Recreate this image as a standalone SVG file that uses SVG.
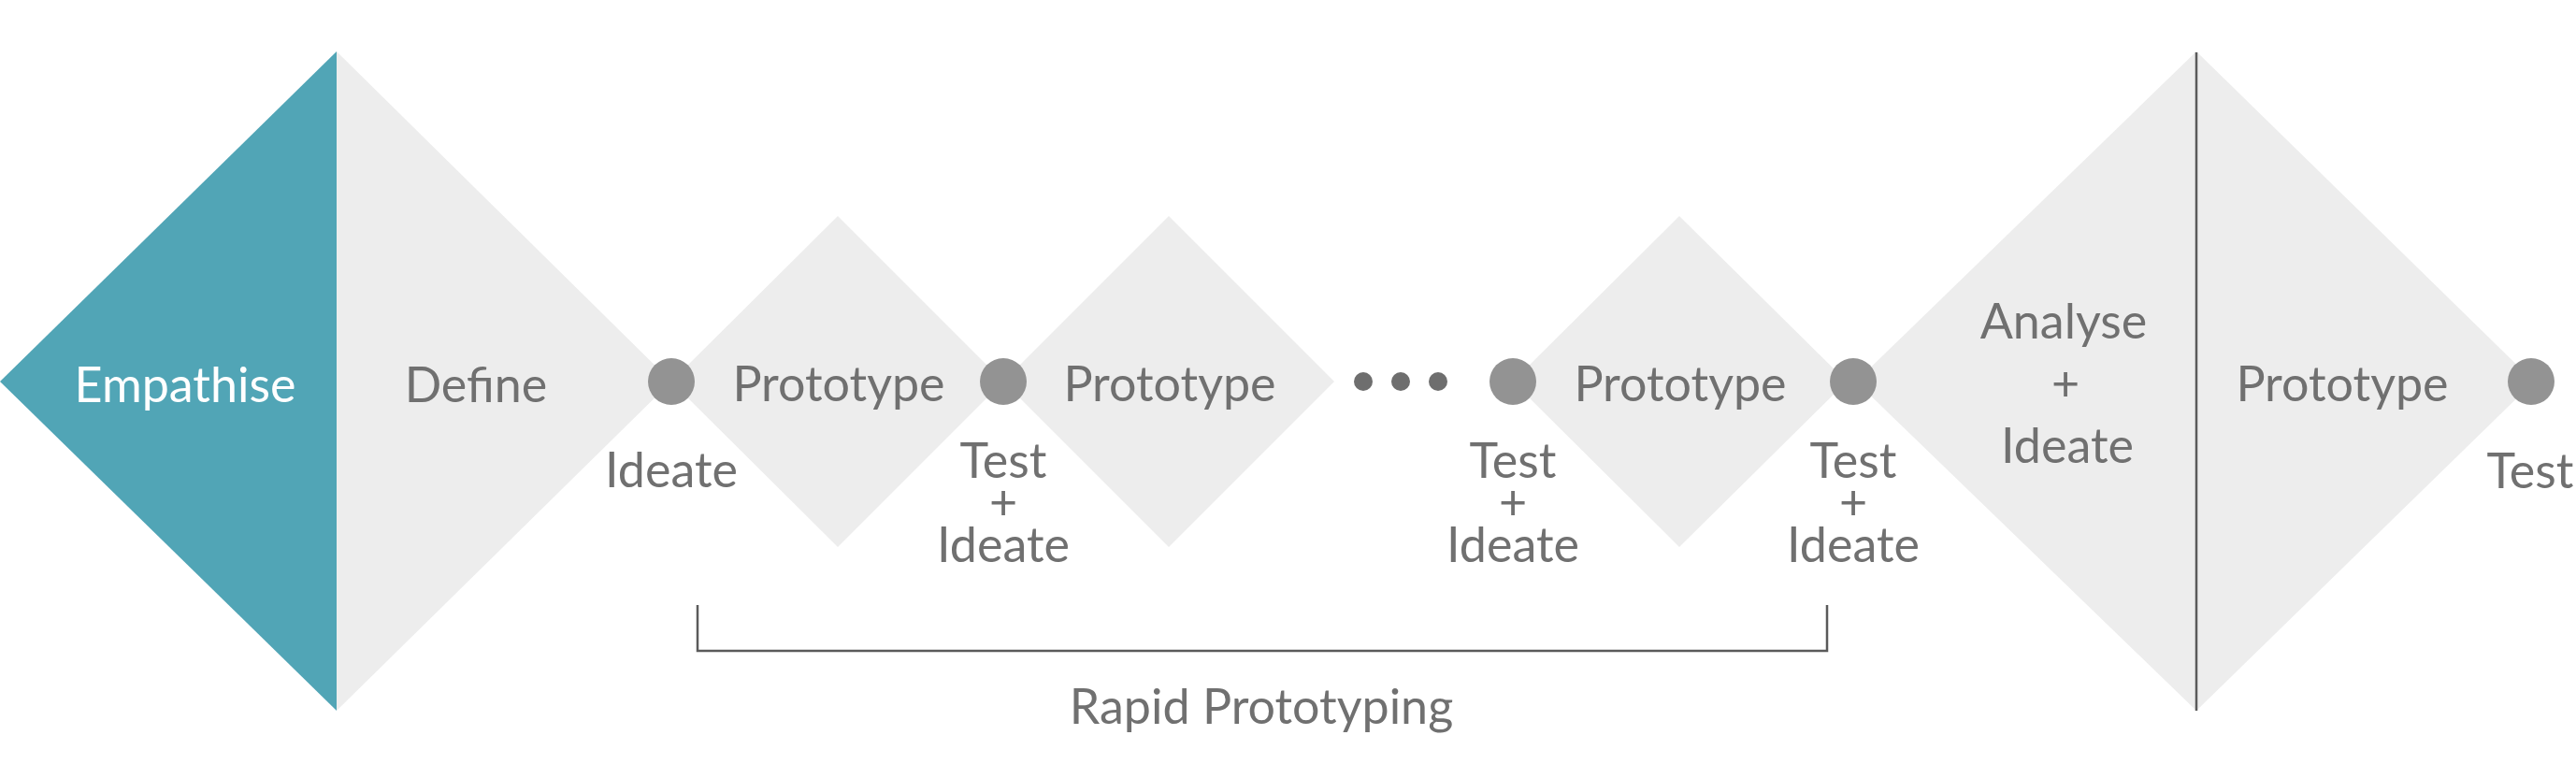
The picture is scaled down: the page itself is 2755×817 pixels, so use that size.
<svg xmlns="http://www.w3.org/2000/svg" width="2755" height="817" viewBox="0 0 2755 817">
<style>
.bg{fill:#ededed}
.teal{fill:#51a5b6}
.dot{fill:#939393}
.edot{fill:#6e6e6e}
.t{font-family:"Lato","Liberation Sans",sans-serif;font-size:52px;fill:#707070;text-anchor:middle}
.w{fill:#ffffff}
.ln{stroke:#5a5a5a;stroke-width:2.5;fill:none}
</style>
<rect width="2755" height="817" fill="#ffffff"/>
<g id="empathise">
<polygon class="teal" points="0,408 360,55 360,760"/>
<text class="t w" x="198" y="430">Empathise</text>
</g>
<g id="define">
<polygon class="bg" points="360,55 718,408 360,760"/>
<text class="t" x="509" y="430">Define</text>
</g>
<g id="prototype1">
<polygon class="bg" points="718,408 896,231 1073,408 896,585"/>
<text class="t" x="897" y="429">Prototype</text>
</g>
<g id="prototype2">
<polygon class="bg" points="1073,408 1250,231 1427,408 1250,585"/>
<text class="t" x="1251" y="429">Prototype</text>
</g>
<g id="prototype3">
<polygon class="bg" points="1618,408 1796,231 1975,408 1796,585"/>
<text class="t" x="1797" y="429">Prototype</text>
</g>
<g id="analyse">
<polygon class="bg" points="1985,408 2349,55 2349,760"/>
<text class="t" x="2207" y="362">Analyse</text>
<text class="t" x="2209" y="429">+</text>
<text class="t" x="2211" y="495">Ideate</text>
</g>
<g id="prototype4">
<polygon class="bg" points="2349,55 2710,408 2349,760"/>
<text class="t" x="2505" y="429">Prototype</text>
</g>
<g id="ellipsis">
<circle class="edot" cx="1458" cy="408" r="10"/>
<circle class="edot" cx="1498" cy="408" r="10"/>
<circle class="edot" cx="1538" cy="408" r="10"/>
</g>
<g id="connectors">
<line class="ln" x1="2349" y1="56" x2="2349" y2="760"/>
<polyline class="ln" points="746,647 746,696 1954,696 1954,647"/>
</g>
<g id="dot1">
<circle class="dot" cx="718" cy="408" r="25"/>
<text class="t" x="718" y="521">Ideate</text>
</g>
<g id="dot2">
<circle class="dot" cx="1073" cy="408" r="25"/>
<text class="t" x="1073" y="511">Test</text>
<text class="t" x="1073" y="556">+</text>
<text class="t" x="1073" y="601">Ideate</text>
</g>
<g id="dot3">
<circle class="dot" cx="1618" cy="408" r="25"/>
<text class="t" x="1618" y="511">Test</text>
<text class="t" x="1618" y="556">+</text>
<text class="t" x="1618" y="601">Ideate</text>
</g>
<g id="dot4">
<circle class="dot" cx="1982" cy="408" r="25"/>
<text class="t" x="1982" y="511">Test</text>
<text class="t" x="1982" y="556">+</text>
<text class="t" x="1982" y="601">Ideate</text>
</g>
<g id="dot5">
<circle class="dot" cx="2707" cy="408" r="25"/>
<text class="t" x="2706" y="522">Test</text>
</g>
<g id="bracket-label">
<text class="t" x="1349" y="774">Rapid Prototyping</text>
</g>
</svg>
